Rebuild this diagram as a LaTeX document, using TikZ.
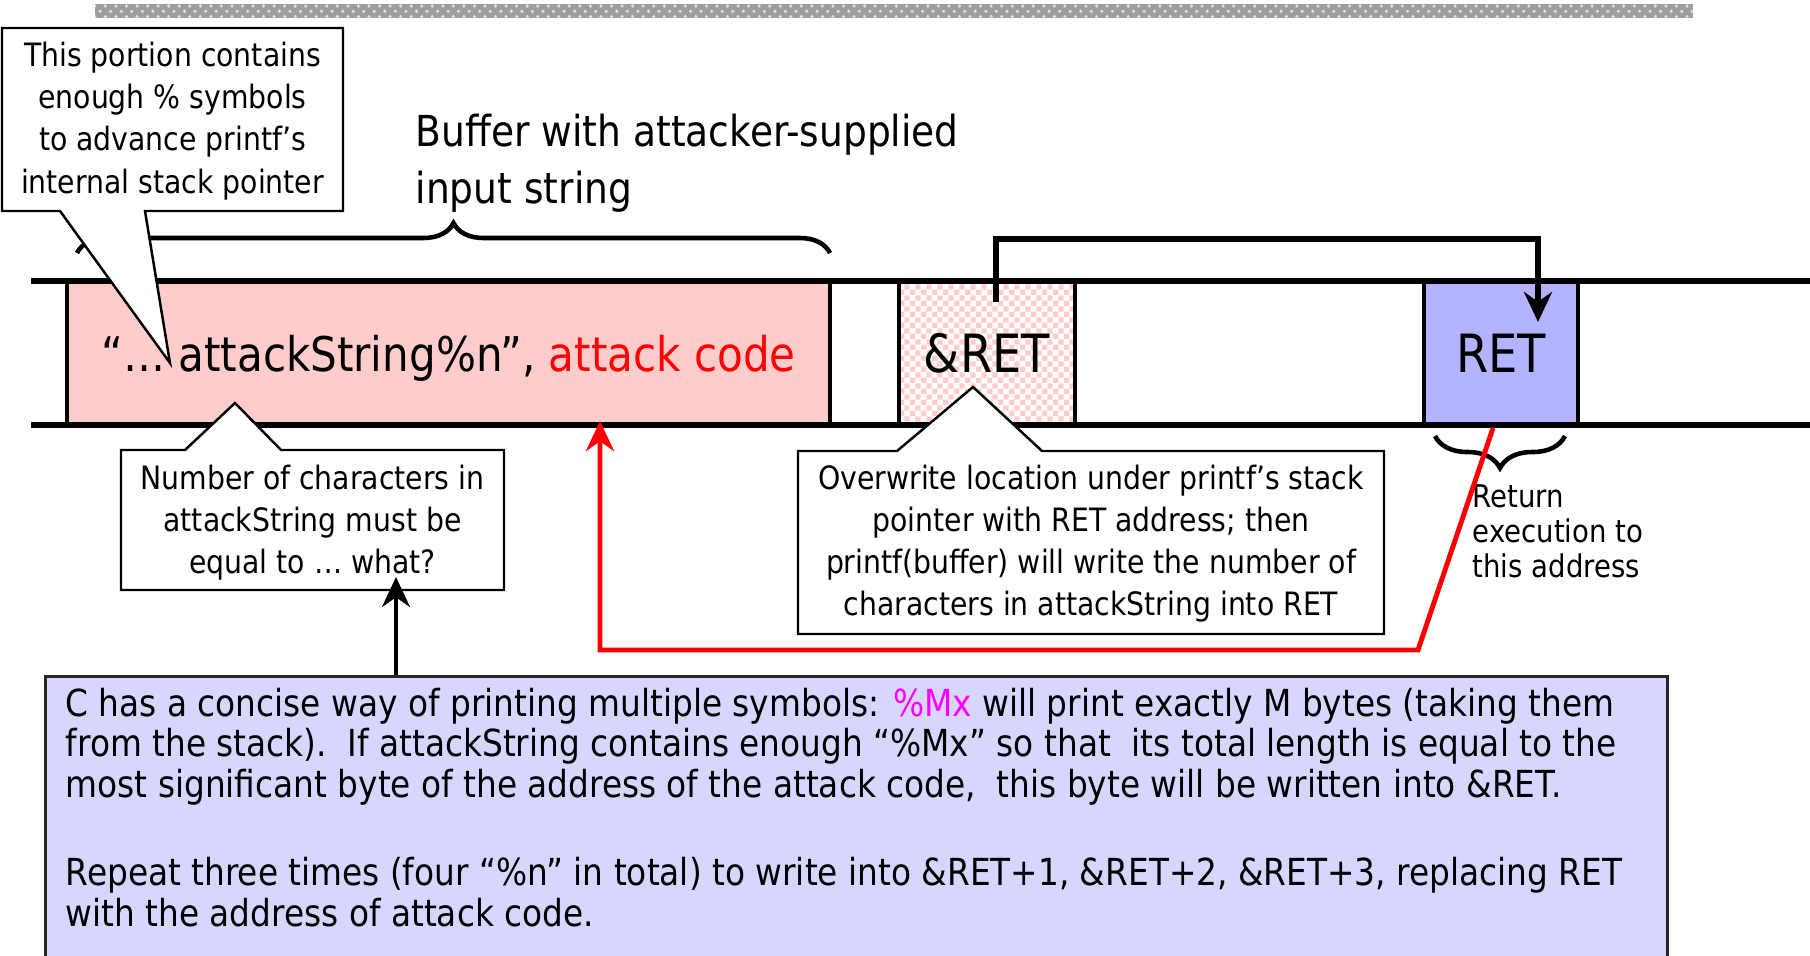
\documentclass[tikz,border=0pt]{standalone}
\usepackage{fontspec}
\setmainfont{DejaVu Sans}[FakeStretch=0.88]
\usetikzlibrary{positioning,arrows.meta,calc,decorations.pathreplacing,patterns,patterns.meta}

\definecolor{bufpink}{RGB}{255,204,204}
\definecolor{retblue}{RGB}{179,179,255}
\definecolor{notefill}{RGB}{214,214,255}
\definecolor{fmtpink}{RGB}{255,0,255}

\tikzdeclarepattern{
  name=finecheck, type=uncolored,
  bottom left={(0pt,0pt)}, top right={(3.2pt,3.2pt)}, tile size={(3.2pt,3.2pt)},
  code={
    \pgfpathrectangle{\pgfpointorigin}{\pgfqpoint{1.6pt}{1.6pt}}
    \pgfpathrectangle{\pgfqpoint{1.6pt}{1.6pt}}{\pgfqpoint{1.6pt}{1.6pt}}
    \pgfusepath{fill}
  }
}

\begin{document}
\begin{tikzpicture}[
  >={Stealth[length=3mm, width=2.8mm]},
  wall/.style={line width=1.8pt},
  cell/.style={draw, line width=1.2pt, minimum height=14.4mm, inner sep=0pt},
  bubble/.style={draw, fill=white, line width=0.7pt},
  note/.style={align=center, inner sep=0pt, font=\fontsize{9.15}{12}\selectfont},
  brc/.style={decorate, line width=1.3pt},
  jump/.style={->, line width=1.4pt}
]
\useasboundingbox (0,0) rectangle (18.10,-9.55);
\clip (0,0) rectangle (18.10,-9.55);

% ---------- grey strip at the top ----------
\fill[black!38] (0.95,-0.04) rectangle (16.93,-0.18);
\fill[pattern=crosshatch dots, pattern color=black!12] (0.95,-0.04) rectangle (16.93,-0.18);

% ---------- stack cells ----------
\node[cell, fill=bufpink, minimum width=76.3mm, text height=4.9mm, text depth=1.2mm,
      font=\fontsize{13.6}{17}\selectfont]
      (buf)  at (4.485,-3.53) {“… attackString\%n”, \textcolor{red}{attack code}};
\node[cell, pattern=finecheck, pattern color=bufpink, minimum width=17.6mm,
      font=\fontsize{15}{18}\selectfont]
      (aret) at (9.87,-3.53)  {\&RET};
\node[cell, fill=retblue, minimum width=15.4mm, font=\fontsize{15}{18}\selectfont]
      (ret)  at (15.01,-3.53) {RET};

\draw[wall] (0.31,-2.81) -- (18.10,-2.81);
\draw[wall] (0.31,-4.25) -- (18.10,-4.25);

% ---------- braces ----------
\draw[brc, decoration={brace, amplitude=3mm}]   (0.77,-2.53)  -- (8.30,-2.53);
\draw[brc, decoration={brace, amplitude=3.2mm}] (15.65,-4.36) -- (14.35,-4.36);

\node[anchor=west, align=left, inner sep=0pt, font=\fontsize{12.15}{16.2}\selectfont]
      (title) at (4.15,-1.635) {Buffer with attacker-supplied\\input string};
\node[anchor=west, align=left, inner sep=0pt, font=\fontsize{8.9}{10}\selectfont]
      (retnote) at (14.72,-5.31) {Return\\execution to\\this address};

% ---------- &RET -> RET ----------
\coordinate (ptr) at (9.96,-3.02);
\coordinate (hit) at (15.38,-3.22);
\draw[jump, line width=1.6pt] (ptr) -- ++(0,0.63) -| (hit);

% ---------- callouts ----------
\draw[bubble] (0.02,-0.28) -- (3.43,-0.28) -- (3.43,-2.11) -- (1.45,-2.11)
              -- (1.70,-3.63) -- (0.60,-2.11) -- (0.02,-2.11) -- cycle;
\node[note] (portion) at (1.725,-1.21)
      {This portion contains\\enough \% symbols\\to advance printf’s\\internal stack pointer};

\draw[bubble] (1.21,-4.50) -- (1.85,-4.50) -- (2.35,-4.03) -- (2.81,-4.50)
              -- (5.04,-4.50) -- (5.04,-5.90) -- (1.21,-5.90) -- cycle;
\node[note] (nchars) at (3.125,-5.225)
      {Number of characters in\\attackString must be\\equal to … what?};

\draw[bubble] (7.98,-4.51) -- (8.97,-4.51) -- (9.73,-3.87) -- (10.42,-4.51)
              -- (13.84,-4.51) -- (13.84,-6.34) -- (7.98,-6.34) -- cycle;
\node[note] (overwrite) at (10.91,-5.435)
      {Overwrite location under printf’s stack\\pointer with RET address; then\\printf(buffer) will write the number of\\characters in attackString into RET};

% ---------- return into attack code ----------
\coordinate (retaddr)  at (14.93,-4.28);
\coordinate (codeaddr) at (6.00,-4.21);
\draw[jump, red] (retaddr) -- (14.18,-6.50) -| (codeaddr);

% ---------- explanation box ----------
\node[draw=black!85, fill=notefill, line width=0.8pt, anchor=north west,
      minimum width=162.2mm, minimum height=32mm] (expl) at (0.44,-6.75) {};
\node[anchor=north west, align=left, inner sep=0pt, font=\fontsize{10.6}{11.6}\selectfont]
      (expltext) at (0.65,-6.87)
      {C has a concise way of printing multiple symbols: \textcolor{fmtpink}{\%Mx} will print exactly M bytes (taking them\\
       from the stack).\ \ If attackString contains enough “\%Mx” so that\ \ its total length is equal to the\\
       most significant byte of the address of the attack code,\ \ this byte will be written into \&RET.\\[13.5pt]
       Repeat three times (four “\%n” in total) to write into \&RET+1, \&RET+2, \&RET+3, replacing RET\\
       with the address of attack code.};

\coordinate (whatq) at (3.96,-5.77);
\draw[jump, line width=1.2pt] (whatq |- expl.north) -- (whatq);

\end{tikzpicture}
\end{document}
